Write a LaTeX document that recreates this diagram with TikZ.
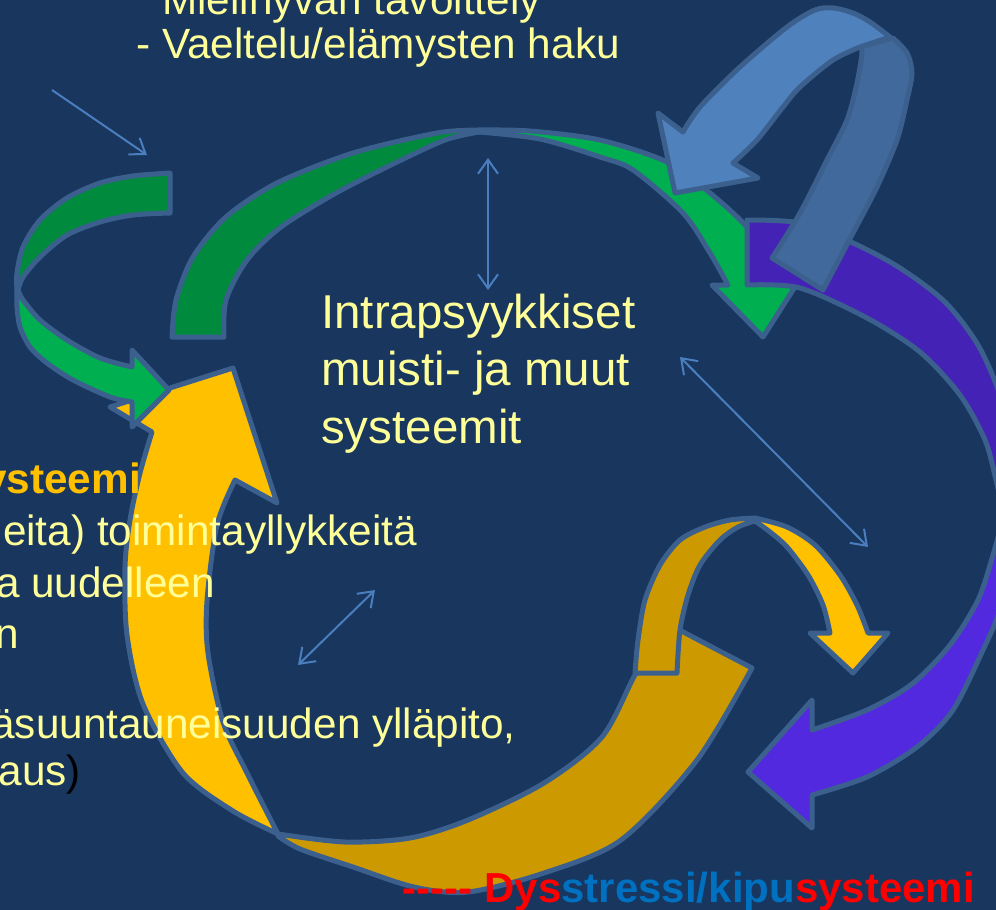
\documentclass[tikz,border=0pt]{standalone}
\usepackage{fontspec}
\setmainfont{Liberation Sans}
\usetikzlibrary{arrows.meta}
\definecolor{bg}{RGB}{24,54,94}
\definecolor{edgecol}{RGB}{60,96,142}
\definecolor{thincol}{RGB}{74,126,190}
\definecolor{textyel}{RGB}{255,255,153}
\definecolor{gdark}{RGB}{0,138,62}
\definecolor{glight}{RGB}{0,176,80}
\definecolor{blight}{RGB}{79,129,189}
\definecolor{bdark}{RGB}{65,105,155}
\definecolor{pdark}{RGB}{68,34,181}
\definecolor{plight}{RGB}{82,41,223}
\definecolor{ybright}{RGB}{255,192,0}
\definecolor{ydark}{RGB}{204,154,0}
\definecolor{kblue}{RGB}{0,112,192}
\newcommand\hy{\mbox{-}}
\begin{document}
\begin{tikzpicture}[x=1pt,y=-1pt,
  band/.style={draw=edgecol, line width=5pt, line join=round},
  conn/.style={draw=thincol, line width=2pt},
  barb/.tip={Straight Barb[length=14pt,width=20pt]},
  txt/.style={inner sep=0pt, text=textyel, font=\fontsize{42.3}{50}\selectfont},
  ctr/.style={inner sep=0pt, text=textyel, font=\fontsize{47.5}{57}\selectfont, anchor=base west}]
\useasboundingbox (0,0) rectangle (996,910);
\clip (0,0) rectangle (996,910);
\fill[bg] (0,0) rectangle (996,910);

% big green arc
\filldraw[band, fill=gdark] (172,337) -- plot[smooth] coordinates {(172,337) (176,300) (193,257) (226,217) (277,183) (353,153) (437,133) (479,130)}
  -- plot[smooth] coordinates {(479,132) (445,140) (395,163) (336,193) (281,227) (247,260) (226,300) (224,337)} -- cycle;
\filldraw[band, fill=glight] (479,130) -- plot[smooth] coordinates {(479,130) (530,131) (600,140) (667,162) (710,193) (745,225) (768,258) (780,283)}
  -- (800,279) -- (763,337) -- (712,285) -- (728,285)
  -- plot[smooth] coordinates {(728,285) (710,253) (683,213) (633,170) (600,157) (540,139) (479,132)} -- cycle;

% purple arc
\filldraw[band, fill=pdark] (747,220) -- plot[smooth] coordinates {(747,220) (800,223) (853,243) (900,268) (945,302) (978,345) (1000,395) (1013,450) (1004,515)}
  -- plot[smooth] coordinates {(1004,515) (996,480) (985,440) (960,395) (920,352) (867,318) (800,288) (747,285)} -- cycle;
\filldraw[band, fill=plight] (1004,515) -- plot[smooth] coordinates {(1004,515) (1012,560) (1000,610) (983,650) (953,710) (917,747) (867,777) (812,795)}
  -- (812,828) -- (748,772) -- (812,700) -- (812,730)
  -- plot[smooth] coordinates {(812,730) (867,710) (912,684) (950,645) (978,600) (993,555) (1004,515)} -- cycle;

% blue circular arrow
\filldraw[band, fill=bdark] (772,258) -- (823,290) -- plot[smooth] coordinates {(823,290) (853,233) (877,187) (897,140) (907,100) (912,73) (907,53) (893,38)}
  -- (860,47) -- plot[smooth] coordinates {(860,47) (862,53) (857,83) (847,120) (827,160) (800,213) (772,258)} -- cycle;
\filldraw[band, fill=blight] (890,37) -- plot[smooth] coordinates {(890,37) (870,22) (853,13) (833,8) (815,10) (787,27) (740,67) (700,107) (683,132)}
  -- (658,113) -- (675,193) -- (758,178) -- (733,163)
  -- plot[smooth] coordinates {(733,163) (757,140) (783,107) (800,87) (833,60) (860,47)} -- cycle;

% big yellow arrow
\filldraw[band, fill=ydark] (278,836) -- plot[smooth] coordinates {(278,836) (300,849) (353,867) (414,887) (468,892) (544,873) (621,840) (697,760) (752,668)}
  -- (668,624) -- plot[smooth] coordinates {(668,624) (636,673) (602,737) (544,783) (468,820) (410,838) (345,842) (278,834)} -- cycle;
\filldraw[band, fill=ybright] (233,368) -- (110,407) -- (152,432)
  -- plot[smooth] coordinates {(152,432) (140,473) (130,520) (125,567) (127,635) (143,704) (183,773) (233,811) (278,834)}
  -- plot[smooth] coordinates {(278,834) (247,773) (223,722) (208,653) (207,601) (217,525) (235,480)}
  -- (277,503) -- cycle;

% small yellow arch
\filldraw[band, fill=ydark] (635,673) -- plot[smooth] coordinates {(635,673) (638,640) (645,600) (660,565) (680,540) (705,527) (730,520) (755,518)}
  -- plot[smooth] coordinates {(755,521) (738,527) (720,540) (700,565) (688,595) (680,630) (677,673)} -- cycle;
\filldraw[band, fill=ybright] (755,518) -- plot[smooth] coordinates {(755,518) (787,527) (815,545) (840,575) (857,605) (868,633)}
  -- (888,633) -- (853,673) -- (810,633) -- (830,633)
  -- plot[smooth] coordinates {(830,633) (823,605) (808,575) (787,547) (770,532) (755,521)} -- cycle;

% small green arrow on the left
\filldraw[band, fill=gdark] (170,173) -- plot[smooth] coordinates {(170,173) (133,176) (100,183) (67,198) (40,220) (23,247) (17,273) (17,290)}
  -- plot[smooth] coordinates {(18,290) (23,277) (40,257) (67,235) (100,222) (133,215) (170,213)} -- cycle;
\filldraw[band, fill=glight] (17,290) -- plot[smooth] coordinates {(17,290) (17,307) (20,327) (30,347) (47,363) (73,380) (110,397) (132,402)}
  -- (132,427) -- (169,390) -- (132,350) -- (132,367)
  -- plot[smooth] coordinates {(132,367) (100,358) (67,340) (40,320) (23,300) (18,290)} -- cycle;

% thin connectors
\coordinate (p1a) at (52,90);   \coordinate (p1b) at (147,155);
\coordinate (p2a) at (488,158); \coordinate (p2b) at (488,290);
\coordinate (p3a) at (680,357); \coordinate (p3b) at (868,547);
\coordinate (p4a) at (375,590); \coordinate (p4b) at (298,665);
\draw[conn, -barb] (p1a) -- (p1b);
\draw[conn, barb-barb] (p2a) -- (p2b);
\draw[conn, barb-barb] (p3a) -- (p3b);
\draw[conn, barb-barb] (p4a) -- (p4b);

% texts
\node[txt, anchor=base west] (top1) at (162,14) {Mielihyvän tavoittely};
\node[txt, anchor=base west] (top2) at (136,58) {- Vaeltelu/elämysten haku};
\node[ctr] (c1) at (321,328) {Intrapsyykkiset};
\node[ctr] (c2) at (321,385) {muisti- ja muut};
\node[ctr] (c3) at (321,443) {systeemit};
\node[txt, anchor=base east, text=ybright, font=\fontsize{42.3}{50}\selectfont\bfseries] (l1) at (141,493) {ysteemi};
\node[txt, anchor=base east] (l2) at (417,545) {eita) toimintayllykkeitä};
\node[txt, anchor=base east] (l3) at (215,597) {a uudelleen};
\node[txt, anchor=base east] (l4) at (19,648) {n};
\node[txt, anchor=base east] (l5) at (516,738) {äsuuntauneisuuden ylläpito,};
\node[txt, anchor=base east] (l6) at (81,785) {aus\textcolor{black}{)}};
\node[inner sep=0pt, anchor=base east, font=\fontsize{42}{50}\selectfont\bfseries] (dys) at (975,902)
  {\textcolor{red}{\hy\hy\hy\hy\hy{} Dys}\textcolor{kblue}{stressi/kipu}\textcolor{red}{systeemi}};
\end{tikzpicture}
\end{document}
